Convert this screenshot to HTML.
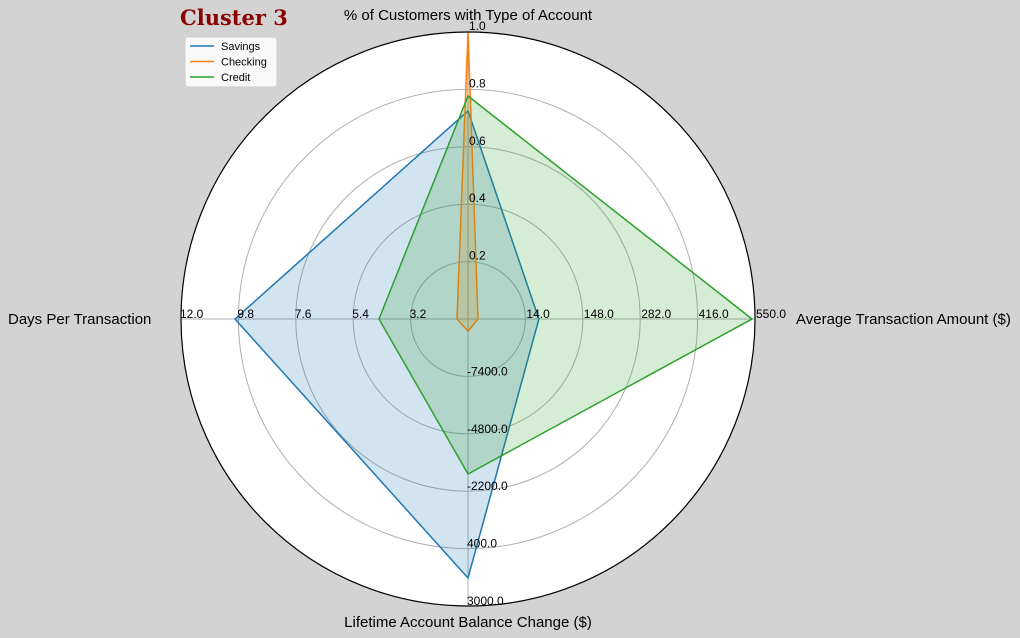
<!DOCTYPE html>
<html><head><meta charset="utf-8"><style>
html,body{margin:0;padding:0;background:#d3d3d3;}
svg{display:block;font-family:"Liberation Sans",sans-serif;}
</style></head><body>
<svg id="chart" width="1020" height="638">
<text x="180" y="25" font-family="DejaVu Serif,serif" font-weight="bold" font-size="21" fill="#8b0000">Cluster 3</text>
</svg>
<script>
const axes = ["% of Customers with Type of Account","Average Transaction Amount ($)","Lifetime Account Balance Change ($)","Days Per Transaction"];
const axisMin = [0, -120, -10000, 1.0];
const axisMax = [1.0, 550, 3000, 12.0];
const tickLabels = [
 ["0.2","0.4","0.6","0.8","1.0"],
 ["14.0","148.0","282.0","416.0","550.0"],
 ["-7400.0","-4800.0","-2200.0","400.0","3000.0"],
 ["3.2","5.4","7.6","9.8","12.0"]];
const seriesNames = ["Savings","Checking","Credit"];
const savings = [0.725, 45.6, 1730, 9.93];
const checking = [1.0, -96.6, -9454, 1.42];
const credit = [0.777, 543, -2980, 4.41];
const seriesData = [savings, checking, credit];
const colors = ["#1f77b4","#ff7f0e","#2ca02c"];

const svg = document.getElementById('chart');
const NS = "http://www.w3.org/2000/svg";
const cx = 468, cy = 319, R = 287;
const angles = [-Math.PI/2, 0, Math.PI/2, Math.PI];
function mk(tag, attrs, parent){const e=document.createElementNS(NS,tag);for(const k in attrs)e.setAttribute(k,attrs[k]);(parent||svg).appendChild(e);return e;}
function rad(i,v){return (v-axisMin[i])/(axisMax[i]-axisMin[i])*R;}
function pt(i,v){const r=rad(i,v);return [cx+r*Math.cos(angles[i]), cy+r*Math.sin(angles[i])];}

const bg = mk('circle',{cx:cx,cy:cy,r:R,fill:'#fff',stroke:'none'});


for(let k=1;k<=4;k++){
  const c=mk('circle',{cx:cx,cy:cy,r:R*k/5,fill:'none',stroke:'#b0b0b0','stroke-width':1});
  
  
}
for(let i=0;i<4;i++){
  const l=mk('line',{x1:cx,y1:cy,x2:cx+R*Math.cos(angles[i]),y2:cy+R*Math.sin(angles[i]),stroke:'#b0b0b0','stroke-width':1});
  
  
}
seriesData.forEach((d,s)=>{
  const pts=d.map((v,i)=>pt(i,v).map(n=>n.toFixed(1)).join(',')).join(' ');
  const p=mk('polygon',{points:pts,fill:colors[s],'fill-opacity':0.2,stroke:colors[s],'stroke-width':1.5,'stroke-linejoin':'miter'});
  
  
});
const outer=mk('circle',{cx:cx,cy:cy,r:R,fill:'none',stroke:'#000','stroke-width':1.2});


for(let i=0;i<4;i++){
  for(let k=1;k<=5;k++){
    const r=R*k/5; let x,y;
    if(i===0){x=cx+1;y=cy-r-2;}
    else if(i===1){x=cx+r+1;y=cy-1;}
    else if(i===2){x=cx-1;y=cy+r-1;}
    else {x=cx-r-1;y=cy-1;}
    const t=mk('text',{x:x,y:y,'font-size':12,fill:'#000','text-anchor':'start'});
    t.textContent=tickLabels[i][k-1];
    
    
  }
}
const tpos=[[468,20,'middle'],[796,324,'start'],[468,627,'middle'],[8,324,'start']];
axes.forEach((a,i)=>{
  const t=mk('text',{x:tpos[i][0],y:tpos[i][1],'font-size':15,fill:'#000','text-anchor':tpos[i][2]});
  t.textContent=a;
  
  
});
const lg=mk('g',{});


mk('rect',{x:185,y:37,width:92,height:50,rx:3,fill:'#fff','fill-opacity':0.85,stroke:'#ccc'},lg);
seriesNames.forEach((n,s)=>{
  const y=46+s*15.5;
  const g=mk('g',{},lg);
  
  
  mk('line',{x1:190,y1:y,x2:214,y2:y,stroke:colors[s],'stroke-width':1.5},g);
  const t=mk('text',{x:221,y:y+4,'font-size':11,fill:'#000'},g);
  t.textContent=n;
});
</script>
</body></html>
